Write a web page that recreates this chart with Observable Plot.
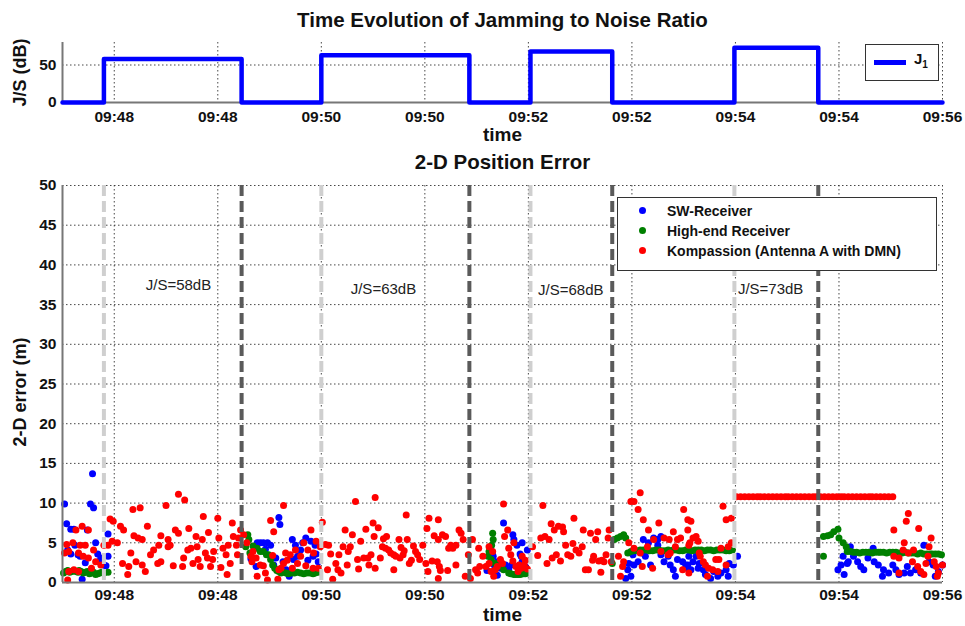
<!DOCTYPE html>
<html><head><meta charset="utf-8">
<script src="https://cdn.jsdelivr.net/npm/d3@7"></script>
<script src="https://cdn.jsdelivr.net/npm/@observablehq/plot@0.6"></script>
<style>
body{margin:0;background:#fff;font-family:Arial,"Liberation Sans",sans-serif;}
#wrap{position:relative;width:965px;height:626px;overflow:hidden;background:#fff;}
#topChart,#bottomChart{position:absolute;left:0;}
#topChart{top:0}
#bottomChart{top:145px}
g[aria-label$="tick label"] text{font-weight:bold;}
.legend{position:absolute;background:#fff;border:1px solid #333;font-weight:bold;color:#111;}
.legend .row{position:absolute;left:0;height:20px;line-height:20px;font-size:14px;white-space:nowrap;}
.legend .dot{position:absolute;width:7px;height:7px;border-radius:50%;}
</style></head><body>
<div id="wrap">
  <div id="topChart"></div>
  <div id="bottomChart"></div>
</div>
<script>
// ---------- data ----------
const tickTimes = [48, 49, 50, 51, 52, 53, 54, 55, 56];           // minutes after 09:00
const tickLabels = ["09:48","09:48","09:50","09:50","09:52","09:52","09:54","09:54","09:56"];
const errorTicks = [0, 5, 10, 15, 20, 25, 30, 35, 40, 45, 50];
const jsTicks = [0, 50];

const jamStart = [47.90, 50.00, 52.02, 53.99];
const jamEnd   = [49.23, 51.43, 52.81, 54.80];
const jamLevel = [58, 63, 68, 73];
const labelTimes = [48.62, 50.60, 52.41, 54.34];
const labelHeights = [37.4, 37.0, 36.8, 37.0];

const seriesNames = ["SW-Receiver", "High-end Receiver", "Kompassion (Antenna A with DMN)"];
const seriesColors = ["#0000ff", "#008000", "#ff0000"];

const swReceiver = [
[47.52,9.9],[47.54,7.4],[47.55,4.1],[47.58,6.7],[47.58,3.6],[47.61,6.7],[47.62,4.7],[47.65,3.5],[47.67,3.3],[47.69,0.4],[47.72,2.5],[47.74,6.6],[47.77,9.9],[47.79,13.7],[47.80,9.4],[47.82,5.0],[47.84,3.6],[47.85,2.6],[47.87,3.1],[47.90,2.2],[47.92,2.1],[47.94,3.3],[47.94,6.1],
[49.32,3.0],[49.37,2.0],[49.38,5.0],[49.41,5.0],[49.44,5.0],[49.46,4.2],[49.48,5.0],[49.51,4.7],[49.54,2.2],[49.56,3.1],[49.59,8.2],[49.60,7.3],[49.63,2.6],[49.66,1.6],[49.69,0.8],[49.72,5.4],[49.73,2.9],[49.75,4.7],[49.77,3.3],[49.80,4.1],[49.82,5.0],[49.85,5.6],[49.87,2.8],[49.90,5.2],[49.92,3.3],[49.94,4.7],[49.95,3.6],[49.97,2.6],
[51.60,1.5],[51.64,4.0],[51.65,3.6],[51.66,3.3],[51.67,2.2],[51.70,2.6],[51.70,0.9],[51.73,1.8],[51.76,7.5],[51.78,2.2],[51.81,1.6],[51.84,2.2],[51.85,6.0],[51.86,5.4],[51.89,4.7],[51.92,3.6],[51.93,3.3],[51.94,5.0],[51.94,2.6],[51.95,1.6],[51.97,2.0],[51.99,4.1],
[52.94,0.5],[52.96,1.6],[52.97,2.4],[52.99,0.8],[53.01,3.5],[53.02,2.2],[53.06,2.6],[53.10,3.7],[53.11,5.4],[53.13,3.3],[53.16,5.0],[53.18,2.2],[53.21,5.6],[53.25,5.4],[53.25,4.7],[53.28,5.8],[53.28,3.5],[53.31,2.6],[53.35,3.3],[53.37,2.2],[53.40,1.6],[53.42,0.8],[53.44,2.9],[53.49,2.6],[53.52,2.2],[53.54,2.2],[53.55,1.6],[53.55,3.3],[53.57,1.6],[53.59,2.6],[53.62,3.3],[53.64,1.8],[53.65,2.4],[53.69,1.6],[53.71,1.0],[53.76,0.5],[53.79,1.4],[53.83,0.8],[53.86,1.2],[53.91,1.6],[53.93,0.8],[53.94,2.4],[53.98,2.2],[54.02,3.3],
[54.99,1.6],[55.02,2.2],[55.04,3.3],[55.05,1.0],[55.08,2.4],[55.09,2.6],[55.11,4.5],[55.14,3.3],[55.18,2.6],[55.21,2.0],[55.24,1.6],[55.28,3.1],[55.33,4.3],[55.34,2.6],[55.38,2.2],[55.42,0.8],[55.43,1.6],[55.48,1.2],[55.52,2.2],[55.55,1.6],[55.58,1.0],[55.63,1.2],[55.66,2.0],[55.69,1.2],[55.74,1.6],[55.79,1.2],[55.82,4.7],[55.87,2.6],[55.91,2.2],[55.93,0.8],[55.96,1.4],[56.00,2.2]
];

const highEnd = [
[47.51,1.2],[47.53,1.4],[47.55,1.5],[47.57,1.3],[47.59,1.4],[47.61,1.5],[47.63,1.4],[47.65,1.3],[47.66,1.5],[47.68,1.4],[47.70,1.2],[47.72,1.3],[47.74,1.4],[47.76,1.1],[47.78,1.2],[47.80,1.3],[47.82,1.0],[47.84,1.1],[47.86,1.2],[47.88,1.3],[47.90,1.2],[47.94,1.3],
[49.27,4.5],[49.29,6.0],[49.30,5.4],[49.31,3.7],[49.34,4.6],[49.38,4.3],[49.41,3.9],[49.44,3.9],[49.47,3.5],[49.49,3.5],[49.51,2.9],[49.53,2.2],[49.55,1.8],[49.57,1.5],[49.59,1.4],[49.61,1.2],[49.63,1.3],[49.66,1.2],[49.68,1.1],[49.71,1.2],[49.74,1.2],[49.77,1.3],[49.80,1.2],[49.83,1.1],[49.86,1.2],[49.89,1.2],[49.92,1.1],[49.94,1.2],[49.97,1.3],
[51.61,3.3],[51.62,3.9],[51.64,2.9],[51.645,4.7],[51.655,6.2],[51.66,5.4],[51.68,2.4],[51.71,2.0],[51.76,1.6],[51.81,1.2],[51.83,1.1],[51.86,1.0],[51.88,1.0],[51.90,1.0],[51.92,1.0],[51.935,1.1],[51.95,1.1],[51.97,1.1],[52.00,1.2],
[52.81,2.4],[52.83,5.4],[52.86,5.6],[52.89,5.8],[52.92,6.0],[52.94,5.6],
[52.96,3.7],[52.99,3.9],[53.02,4.0],[53.05,4.0],[53.08,4.1],[53.11,4.1],[53.14,4.1],[53.17,4.0],[53.20,4.0],[53.23,4.1],[53.26,4.1],[53.29,4.0],[53.32,4.0],[53.35,4.1],[53.37,4.0],[53.40,4.1],[53.43,4.1],[53.46,4.0],[53.49,4.0],[53.52,4.1],[53.55,4.1],[53.58,4.0],[53.61,4.1],[53.64,4.1],[53.67,4.1],[53.70,4.0],[53.73,4.1],[53.76,4.1],[53.79,4.0],[53.82,4.1],[53.85,4.1],[53.88,4.1],[53.91,4.0],[53.94,4.0],[53.97,4.1],
[54.85,3.3],[54.85,5.8],[54.89,5.9],[54.92,6.0],[54.95,6.4],[54.99,6.7],[55.00,5.6],[55.04,5.0],[55.07,4.5],[55.08,3.9],
[55.11,3.9],[55.14,3.8],[55.17,3.8],[55.20,3.7],[55.23,3.8],[55.26,3.8],[55.29,3.8],[55.32,3.7],[55.35,3.8],[55.38,3.8],[55.40,3.8],[55.43,3.8],[55.46,3.7],[55.49,3.8],[55.52,3.8],[55.55,3.8],[55.58,3.7],[55.61,3.7],[55.64,3.8],[55.67,3.7],[55.70,3.7],[55.73,3.7],[55.76,3.6],[55.79,3.7],[55.82,3.6],[55.85,3.6],[55.88,3.6],[55.90,3.6],[55.93,3.6],[55.96,3.6],[55.99,3.5]
];

const kompassion = [
[47.52,3.7],[47.54,4.8],[47.55,0.3],[47.56,1.4],[47.56,3.9],[47.60,5.0],[47.61,1.6],[47.63,6.6],[47.655,1.4],[47.655,3.7],[47.67,4.7],[47.69,7.1],[47.70,3.3],[47.72,4.7],[47.75,6.6],[47.75,3.1],[47.78,1.8],[47.80,4.1],[47.82,2.6],[47.87,2.2],[47.90,4.7],[47.94,4.7],
[47.96,8.0],[47.98,5.2],[47.99,7.7],[48.03,5.0],[48.06,7.1],[48.08,2.4],[48.09,6.6],[48.13,1.0],[48.14,2.0],[48.16,3.7],[48.18,9.2],[48.19,5.9],[48.21,2.6],[48.23,5.6],[48.25,9.4],[48.27,5.4],[48.27,2.2],[48.30,1.4],[48.32,7.1],[48.35,3.5],[48.38,4.1],[48.42,2.4],[48.43,4.7],[48.45,5.9],[48.45,2.6],[48.50,9.7],[48.52,5.4],[48.52,4.5],[48.54,4.7],[48.57,2.1],[48.59,6.6],[48.62,6.2],[48.62,11.1],[48.66,2.0],[48.67,3.1],[48.68,10.4],[48.71,4.1],[48.72,6.8],[48.74,4.3],[48.76,2.4],[48.79,5.8],[48.80,4.5],[48.81,2.9],[48.83,2.0],[48.85,5.4],[48.86,8.3],[48.88,3.7],[48.90,3.1],[48.91,6.3],[48.93,2.0],[48.95,2.9],[48.96,3.9],[49.00,8.1],[49.01,5.6],[49.03,1.9],[49.05,4.3],[49.08,3.5],[49.09,1.0],[49.10,4.7],[49.12,2.4],[49.14,7.5],[49.15,5.8],[49.18,4.7],[49.19,3.5],[49.20,5.6],[49.22,6.6],
[49.25,6.0],[49.28,5.0],[49.32,3.3],[49.33,2.6],[49.34,3.9],[49.37,3.1],[49.38,0.8],[49.41,2.2],[49.44,2.1],[49.46,1.2],[49.48,0.3],[49.51,7.8],[49.53,3.4],[49.54,6.4],[49.58,0.4],[49.59,1.6],[49.61,1.8],[49.635,9.7],[49.635,2.4],[49.655,3.7],[49.67,2.8],[49.70,3.5],[49.72,1.8],[49.75,4.1],[49.77,2.4],[49.80,3.3],[49.83,5.0],[49.85,2.1],[49.87,4.1],[49.90,6.6],[49.92,1.8],[49.925,3.7],[49.95,5.2],[49.97,1.8],[49.99,4.5],
[50.01,7.6],[50.04,4.8],[50.06,1.6],[50.07,4.7],[50.09,3.6],[50.11,0.4],[50.14,2.4],[50.16,1.6],[50.17,3.5],[50.19,1.2],[50.21,4.5],[50.23,6.6],[50.25,2.2],[50.26,3.9],[50.28,4.5],[50.30,6.0],[50.33,10.2],[50.35,2.9],[50.36,1.7],[50.38,5.2],[50.41,3.1],[50.43,6.7],[50.45,3.1],[50.46,2.2],[50.48,3.5],[50.50,7.5],[50.51,5.8],[50.52,10.7],[50.52,1.8],[50.55,6.9],[50.57,3.1],[50.59,4.5],[50.60,5.5],[50.62,4.3],[50.63,5.8],[50.65,4.1],[50.67,3.7],[50.70,3.5],[50.70,1.6],[50.72,3.3],[50.75,5.4],[50.76,3.1],[50.77,4.4],[50.79,3.5],[50.80,4.0],[50.82,8.5],[50.83,5.4],[50.85,2.4],[50.87,2.8],[50.89,4.6],[50.91,3.9],[50.93,3.5],[50.95,2.9],[50.98,4.7],[51.01,2.4],[51.02,6.8],[51.03,1.4],[51.04,8.1],[51.07,2.7],[51.09,5.9],[51.12,2.6],[51.13,7.9],[51.13,5.4],[51.13,0.5],[51.14,2.0],[51.15,1.5],[51.17,6.0],[51.20,5.8],[51.22,1.5],[51.23,4.3],[51.25,4.7],[51.27,4.3],[51.30,4.7],[51.30,2.2],[51.33,6.6],[51.35,6.2],[51.37,5.4],[51.39,0.8],[51.42,3.5],
[51.44,0.5],[51.46,5.4],[51.49,1.6],[51.51,1.2],[51.52,4.3],[51.53,2.0],[51.56,3.3],[51.59,2.0],[51.62,4.5],[51.62,2.4],[51.64,1.4],[51.655,3.9],[51.665,0.8],[51.68,1.6],[51.70,2.0],[51.73,2.9],[51.75,2.4],[51.76,9.9],[51.77,5.8],[51.80,6.6],[51.81,4.3],[51.83,3.5],[51.85,2.7],[51.86,5.0],[51.88,2.0],[51.90,1.4],[51.91,2.2],[51.93,1.8],[51.94,3.3],[51.96,2.2],[51.97,2.8],[51.99,1.7],
[52.04,4.5],[52.09,3.4],[52.12,5.6],[52.14,9.7],[52.16,5.8],[52.18,2.4],[52.20,5.4],[52.22,7.4],[52.23,3.1],[52.25,6.6],[52.27,3.5],[52.29,7.1],[52.31,2.7],[52.33,7.0],[52.34,6.4],[52.36,4.7],[52.38,3.5],[52.41,3.3],[52.43,4.9],[52.44,8.1],[52.46,4.1],[52.49,3.7],[52.52,4.5],[52.53,6.6],[52.55,1.6],[52.58,1.6],[52.60,6.2],[52.62,2.8],[52.63,3.3],[52.65,5.4],[52.67,6.4],[52.68,2.7],[52.70,1.3],[52.71,2.8],[52.73,2.6],[52.75,3.5],[52.77,5.6],[52.78,6.6],[52.80,2.6],
[52.87,3.3],[52.89,0.8],[52.91,2.0],[52.92,2.6],[52.97,5.0],[52.99,10.2],[53.02,10.2],[53.02,4.3],[53.06,9.2],[53.08,11.3],[53.08,3.7],[53.10,2.0],[53.11,7.9],[53.15,4.5],[53.16,6.6],[53.20,1.8],[53.21,5.4],[53.26,7.5],[53.28,3.9],[53.31,5.6],[53.35,3.5],[53.36,5.4],[53.37,3.7],[53.40,6.4],[53.42,4.5],[53.44,5.4],[53.47,5.6],[53.49,1.6],[53.50,9.2],[53.54,7.9],[53.54,6.6],[53.55,1.2],[53.55,4.7],[53.56,5.0],[53.57,7.7],[53.59,5.6],[53.62,5.8],[53.64,5.2],[53.65,3.7],[53.66,3.3],[53.69,2.6],[53.71,2.2],[53.73,0.8],[53.74,1.8],[53.78,1.6],[53.81,2.9],[53.83,1.4],[53.84,2.9],[53.86,4.3],[53.88,9.6],[53.91,7.9],[53.91,2.2],[53.93,4.5],[53.96,5.0],[53.96,8.1],
[54.01,10.8],[54.05,10.8],[54.09,10.8],[54.13,10.8],[54.17,10.8],[54.21,10.8],[54.24,10.8],[54.28,10.8],[54.32,10.8],[54.36,10.8],[54.40,10.8],[54.44,10.8],[54.48,10.8],[54.51,10.8],[54.55,10.8],[54.59,10.8],[54.63,10.8],[54.67,10.8],[54.71,10.8],[54.75,10.8],[54.78,10.8],[54.82,10.8],[54.86,10.8],[54.90,10.8],[54.94,10.8],[54.98,10.8],[55.02,10.8],[55.05,10.8],[55.09,10.8],[55.13,10.8],[55.17,10.8],[55.21,10.8],[55.25,10.8],[55.29,10.8],[55.32,10.8],[55.36,10.8],[55.40,10.8],[55.44,10.8],[55.48,10.8],[55.52,10.8],
[55.53,6.6],[55.53,3.3],[55.58,3.1],[55.58,1.2],[55.62,4.1],[55.63,5.0],[55.65,7.7],[55.67,8.7],[55.67,3.7],[55.71,2.6],[55.72,4.1],[55.76,2.0],[55.77,6.8],[55.79,1.4],[55.82,1.0],[55.84,2.4],[55.86,3.3],[55.87,4.5],[55.89,5.6],[55.92,2.6],[55.94,2.0],[55.95,0.8],[55.96,1.2],[56.00,2.2]
];

// ---------- derived ----------
const jsSteps = [{t: 47.5, v: 0}];
jamStart.forEach((s, i) => { jsSteps.push({t: s, v: jamLevel[i]}); jsSteps.push({t: jamEnd[i], v: 0}); });
jsSteps.push({t: 56, v: 0});

const fmtTick = d => tickLabels[tickTimes.indexOf(d)];
const FONT = "Arial, 'Liberation Sans', sans-serif";
const gridStyle = {stroke: "#333", strokeOpacity: 0.9, strokeWidth: 1, strokeDasharray: "1.5,2.5"};

// ---------- top chart ----------
const topPlot = Plot.plot({
  width: 965, height: 145,
  marginTop: 42, marginBottom: 43, marginLeft: 62, marginRight: 23,
  style: {fontFamily: FONT, background: "white", overflow: "visible", color: "#111"},
  x: {domain: [47.5, 56]},
  y: {domain: [0, 80]},
  marks: [
    Plot.gridX({ticks: tickTimes, ...gridStyle}),
    Plot.gridY({ticks: [50], ...gridStyle}),
    Plot.ruleY([0], {stroke: "#777", strokeWidth: 2}),
    Plot.ruleX([47.5], {stroke: "#777", strokeWidth: 2}),
    Plot.line(jsSteps, {x: "t", y: "v", curve: "step-after", stroke: "#0000ff", strokeWidth: 4.5}),
    Plot.axisX({ticks: tickTimes, tickFormat: fmtTick, tickSize: 0, tickPadding: 8, fontSize: 15.5, fontWeight: "bold", label: null}),
    Plot.axisY({ticks: jsTicks, tickSize: 0, tickPadding: 6, fontSize: 15.5, fontWeight: "bold", label: null}),
    Plot.text(["Time Evolution of Jamming to Noise Ratio"], {text: d => d, frameAnchor: "top", lineAnchor: "middle", dy: -22, fontSize: 20.5, fontWeight: "bold"}),
    Plot.text(["time"], {text: d => d, frameAnchor: "bottom", lineAnchor: "middle", dy: 32, fontSize: 19, fontWeight: "bold"}),
    Plot.text(["J/S (dB)"], {text: d => d, frameAnchor: "left", textAnchor: "middle", lineAnchor: "middle", rotate: -90, dx: -42, fontSize: 18, fontWeight: "bold"})
  ]
});
document.getElementById("topChart").append(topPlot);

// ---------- bottom chart ----------
const dotOpts = (color) => ({x: d => d[0], y: d => d[1], r: 3.5, fill: color});
const bottomPlot = Plot.plot({
  width: 965, height: 481,
  marginTop: 40, marginBottom: 44, marginLeft: 62, marginRight: 23,
  style: {fontFamily: FONT, background: "white", overflow: "visible", color: "#111"},
  x: {domain: [47.5, 56]},
  y: {domain: [0, 50]},
  marks: [
    Plot.gridX({ticks: tickTimes, ...gridStyle}),
    Plot.gridY({ticks: errorTicks, ...gridStyle}),
    Plot.dot(swReceiver, dotOpts(seriesColors[0])),
    Plot.dot(highEnd, dotOpts(seriesColors[1])),
    Plot.dot(kompassion, dotOpts(seriesColors[2])),
    Plot.ruleX(jamStart, {stroke: "#cfcfcf", strokeWidth: 4, strokeDasharray: "11,5"}),
    Plot.ruleX(jamEnd, {stroke: "#5a5a5a", strokeWidth: 4, strokeDasharray: "11,5"}),
    Plot.ruleY([0], {stroke: "#777", strokeWidth: 2}),
    Plot.ruleX([47.5], {stroke: "#777", strokeWidth: 2}),
    Plot.text(jamLevel, {x: (d, i) => labelTimes[i], y: (d, i) => labelHeights[i], text: d => `J/S=${d}dB`, fontSize: 15, fill: "#222"}),
    Plot.axisX({ticks: tickTimes, tickFormat: fmtTick, tickSize: 0, tickPadding: 6, fontSize: 15.5, fontWeight: "bold", label: null}),
    Plot.axisY({ticks: errorTicks, tickSize: 0, tickPadding: 6, fontSize: 15.5, fontWeight: "bold", label: null}),
    Plot.text(["2-D Position Error"], {text: d => d, frameAnchor: "top", lineAnchor: "middle", dy: -23, fontSize: 20.5, fontWeight: "bold"}),
    Plot.text(["time"], {text: d => d, frameAnchor: "bottom", lineAnchor: "middle", dy: 32, fontSize: 19, fontWeight: "bold"}),
    Plot.text(["2-D error (m)"], {text: d => d, frameAnchor: "left", textAnchor: "middle", lineAnchor: "middle", rotate: -90, dx: -42, dy: 8, fontSize: 18, fontWeight: "bold"})
  ]
});
document.getElementById("bottomChart").append(bottomPlot);

// ---------- legends ----------
const wrap = document.getElementById("wrap");
const leg = document.createElement("div");
leg.className = "legend";
Object.assign(leg.style, {left: "617px", top: "197px", width: "318px", height: "72px"});
seriesNames.forEach((name, i) => {
  const row = document.createElement("div");
  row.className = "row";
  row.style.top = (3 + i * 20) + "px";
  const dot = document.createElement("div");
  dot.className = "dot";
  Object.assign(dot.style, {background: seriesColors[i], left: "21px", top: "6px"});
  const lab = document.createElement("span");
  lab.textContent = name;
  lab.style.marginLeft = "49px";
  row.append(dot, lab);
  leg.append(row);
});
wrap.append(leg);

const leg2 = document.createElement("div");
leg2.className = "legend";
Object.assign(leg2.style, {left: "865px", top: "44px", width: "72px", height: "35px"});
const ln = document.createElement("div");
Object.assign(ln.style, {position: "absolute", left: "8px", top: "15px", width: "32px", height: "4.5px", background: "#0000ff"});
const jl = document.createElement("div");
jl.innerHTML = "J<sub style='font-size:10px'>1</sub>";
Object.assign(jl.style, {position: "absolute", left: "48px", top: "5px", fontSize: "15px", fontWeight: "bold", lineHeight: "18px"});
leg2.append(ln, jl);
wrap.append(leg2);
</script>
</body></html>
